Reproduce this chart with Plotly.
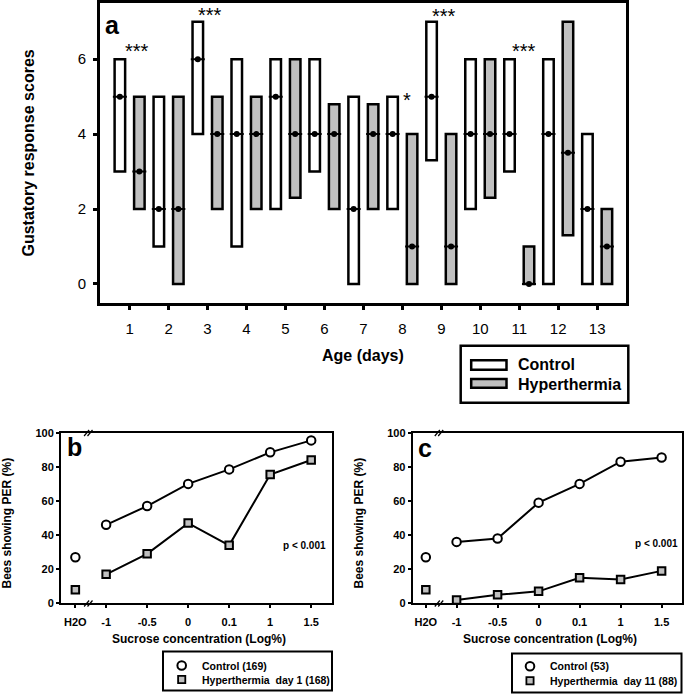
import plotly.graph_objects as go

FONT = "Liberation Sans, Arial, sans-serif"
W, H = 685, 695

# ---------------- Panel a data ----------------
days = list(range(1, 14))
ctrl_min = [3, 1, 4, 1, 2, 3, 0, 2, 3.3, 2, 3, 0, 0]
ctrl_max = [6, 5, 7, 6, 6, 6, 5, 5, 7, 6, 6, 6, 4]
ctrl_med = [5, 2, 6, 4, 5, 4, 2, 4, 5, 4, 4, 4, 2]
hyp_min = [2, 0, 2, 2, 2.3, 2, 2, 0, 0, 2.3, 0, 1.3, 0]
hyp_max = [5, 5, 5, 5, 6, 4.8, 4.8, 4, 4, 6, 1, 7, 2]
hyp_med = [3, 2, 4, 4, 4, 4, 4, 1, 1, 4, 0, 3.5, 1]
sig_labels = ["***", "***", "*", "***", "***"]
sig_x = [1.2, 3.07, 8.11, 9.07, 11.11]
sig_y = [6.21, 7.17, 4.9, 7.14, 6.21]

# ---------------- Panels b & c data ----------------
conc_labels = ["H2O", "-1", "-0.5", "0", "0.1", "1", "1.5"]
b_ctrl = [27, 46, 57, 70, 78.5, 88.5, 95.5]
b_hyp = [8, 17, 29, 47, 34, 75.5, 84]
c_ctrl = [27, 36, 38, 59, 70, 83, 85.5]
c_hyp = [8, 2, 5, 7, 15, 14, 19]
b_names = ["Control (169)", "Hyperthermia\u00a0 day 1 (168)"]
c_names = ["Control (53)", "Hyperthermia\u00a0 day 11 (88)"]

GRAY = "#c0c0c0"
conc_pos = [-0.75] + list(range(len(conc_labels) - 1))


def X(px):
    return px / W


def Y(py):
    return 1 - py / H


fig = go.Figure()

BW = 0.27
fig.add_trace(go.Bar(
    x=days, base=ctrl_min, y=[hi - lo for lo, hi in zip(ctrl_min, ctrl_max)],
    width=BW, offset=-0.25 - BW / 2,
    marker=dict(color="white", line=dict(color="black", width=2.5)),
    showlegend=False, xaxis="x", yaxis="y"))
fig.add_trace(go.Bar(
    x=days, base=hyp_min, y=[hi - lo for lo, hi in zip(hyp_min, hyp_max)],
    width=BW, offset=0.25 - BW / 2,
    marker=dict(color=GRAY, line=dict(color="black", width=2.5)),
    showlegend=False, xaxis="x", yaxis="y"))
for off, med in ((-0.25, ctrl_med), (0.25, hyp_med)):
    xs = [d + off for d in days]
    fig.add_trace(go.Scatter(
        x=xs, y=med, mode="markers",
        marker=dict(symbol="line-ew", size=10, line=dict(color="black", width=2)),
        showlegend=False, hoverinfo="skip", xaxis="x", yaxis="y"))
    fig.add_trace(go.Scatter(
        x=xs, y=med, mode="markers",
        marker=dict(symbol="circle", size=6, color="black"),
        showlegend=False, xaxis="x", yaxis="y"))

for (ctrl, hyp, xa, ya) in ((b_ctrl, b_hyp, "x2", "y2"), (c_ctrl, c_hyp, "x3", "y3")):
    for vals, sym, fill, sz in ((ctrl, "circle", "white", 8.5), (hyp, "square", GRAY, 7.5)):
        mk = dict(symbol=sym, size=sz, color=fill, line=dict(color="black", width=2))
        fig.add_trace(go.Scatter(
            x=conc_pos[1:], y=vals[1:], mode="lines+markers",
            line=dict(color="black", width=2), marker=mk,
            showlegend=False, xaxis=xa, yaxis=ya))
        fig.add_trace(go.Scatter(
            x=conc_pos[:1], y=vals[:1], mode="markers", marker=mk,
            showlegend=False, xaxis=xa, yaxis=ya))

ann = []
for sx, sy, lab in zip(sig_x, sig_y, sig_labels):
    ann.append(dict(x=sx, y=sy, xref="x", yref="y", text=lab, showarrow=False,
                    font=dict(family=FONT, size=20, color="black"), yanchor="middle"))


def pann(text, px, py, size, bold=True, angle=0, xanchor="center"):
    ann.append(dict(x=X(px), y=Y(py), xref="paper", yref="paper", text=text,
                    showarrow=False, textangle=angle, xanchor=xanchor, yanchor="middle",
                    font=dict(family=FONT, size=size, color="black",
                              weight="bold" if bold else "normal")))


pann("a", 112, 25, 25)
pann("Gustatory response scores", 28, 153.5, 16, angle=-90)
pann("Age (days)", 363, 355, 16)
pann("Control", 516, 365, 16, xanchor="left")
pann("Hyperthermia", 516, 384, 16, xanchor="left")

pann("b", 74, 446.5, 25)
pann("c", 424.5, 447.5, 25)
pann("Bees showing PER (%)", 6.5, 523, 12, angle=-90)
pann("Bees showing PER (%)", 358.5, 523, 12, angle=-90)
pann("Sucrose concentration (Log%)", 198.5, 638.5, 12)
pann("Sucrose concentration (Log%)", 550, 638.5, 12)
pann("p < 0.001", 304, 545, 10)
pann("p < 0.001", 656.5, 543, 10)

shapes = [
    dict(type="rect", xref="paper", yref="paper", x0=X(460.7), x1=X(628.3),
         y0=Y(402.7), y1=Y(345.7), line=dict(color="black", width=2.5)),
    dict(type="rect", xref="paper", yref="paper", x0=X(471.2), x1=X(506.5),
         y0=Y(369.8), y1=Y(360.2), fillcolor="white", line=dict(color="black", width=2.5)),
    dict(type="rect", xref="paper", yref="paper", x0=X(471.2), x1=X(506.5),
         y0=Y(387.8), y1=Y(379), fillcolor=GRAY, line=dict(color="black", width=2.5)),
]

for (bx0, bx1, by0, by1, mx, cy, sy, names) in (
        (163, 332, 651.5, 690.5, 181.7, 665.5, 679.5, b_names),
        (512, 681.5, 653.5, 692.5, 530, 666.3, 680.7, c_names)):
    shapes.append(dict(type="rect", xref="paper", yref="paper", x0=X(bx0), x1=X(bx1),
                       y0=Y(by1), y1=Y(by0), line=dict(color="black", width=2)))
    shapes.append(dict(type="circle", xref="paper", yref="paper", x0=X(mx - 4.3),
                       x1=X(mx + 4.3), y0=Y(cy + 4.3), y1=Y(cy - 4.3),
                       fillcolor="white", line=dict(color="black", width=2)))
    shapes.append(dict(type="rect", xref="paper", yref="paper", x0=X(mx - 3.6),
                       x1=X(mx + 3.6), y0=Y(sy + 3.6), y1=Y(sy - 3.6),
                       fillcolor=GRAY, line=dict(color="black", width=1.8)))
    pann(names[0], mx + 17.8, cy, 10.5, xanchor="left")
    pann(names[1], mx + 17.8, sy, 10.5, xanchor="left")

for cx, ys in ((88.3, (433, 603.5)), (439, (433, 603.5))):
    for cy in ys:
        for d in (-1.7, 1.7):
            shapes.append(dict(type="line", xref="paper", yref="paper",
                               x0=X(cx + d - 2.5), x1=X(cx + d + 2.5),
                               y0=Y(cy + 3), y1=Y(cy - 3),
                               line=dict(color="black", width=1.2)))

tick_a = dict(family=FONT, size=15, color="black")
tick_bc = dict(family=FONT, size=11, color="black", weight="bold")


def ax_bc(domain, rng, **kw):
    d = dict(domain=domain, range=rng, showgrid=False, zeroline=False, showline=True,
             linecolor="black", linewidth=2, mirror=True, ticks="outside", ticklen=3,
             tickwidth=1.5, tickcolor="black", tickfont=tick_bc)
    d.update(kw)
    return d


fig.update_layout(
    width=W, height=H, margin=dict(l=0, r=0, t=0, b=0, autoexpand=False),
    paper_bgcolor="white", plot_bgcolor="white", barmode="overlay",
    showlegend=False,
    xaxis=dict(domain=[X(100), X(626)], range=[0.24, 13.74], tickvals=days,
               showgrid=False, zeroline=False, showline=True, linecolor="black",
               linewidth=3, mirror=True, ticks="outside", ticklen=4, tickwidth=3,
               tickcolor="black", tickfont=tick_a, ticklabelstandoff=6),
    yaxis=dict(domain=[Y(302.7), Y(3)], range=[-0.5, 7.5], tickvals=[0, 2, 4, 6],
               showgrid=False, zeroline=False, showline=True, linecolor="black",
               linewidth=3, mirror=True, ticks="outside", ticklen=4, tickwidth=3,
               tickcolor="black", tickfont=tick_a, ticklabelstandoff=4),
    xaxis2=ax_bc([X(61), X(331.7)], [-1.1, 5.5], anchor="y2",
                 tickvals=conc_pos, ticktext=conc_labels, ticklabelstandoff=4),
    yaxis2=ax_bc([Y(603.3), Y(432.7)], [0, 100], anchor="x2",
                 tickvals=[0, 20, 40, 60, 80, 100]),
    xaxis3=ax_bc([X(412.7), X(681.7)], [-1.07, 5.49], anchor="y3",
                 tickvals=conc_pos, ticktext=conc_labels, ticklabelstandoff=4),
    yaxis3=ax_bc([Y(603.3), Y(432.7)], [0, 100], anchor="x3",
                 tickvals=[0, 20, 40, 60, 80, 100]),
    annotations=ann, shapes=shapes,
)

fig.write_html("out.html", config={"displayModeBar": False},
               post_script="document.body.style.margin='0';document.body.style.overflow='hidden';")
